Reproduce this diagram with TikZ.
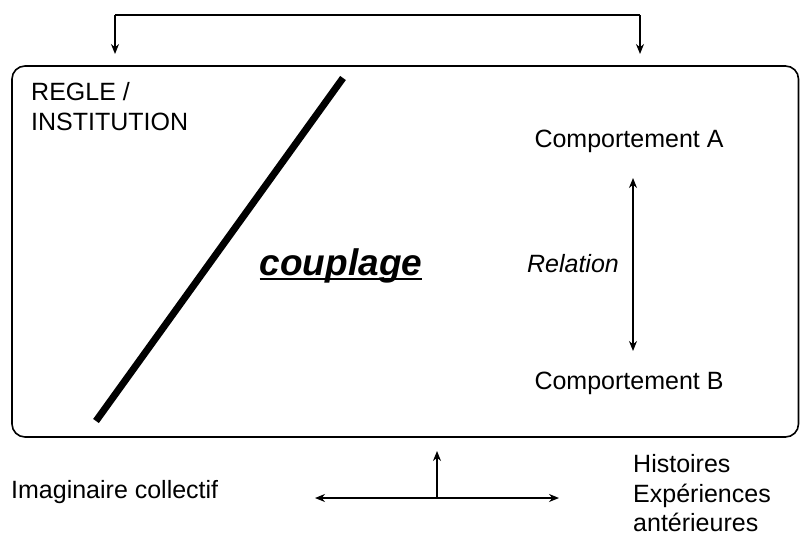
\documentclass[tikz,border=0pt]{standalone}
\usepackage{fontspec}
\setmainfont{Liberation Sans}
\usetikzlibrary{arrows.meta}
\begin{document}
\begin{tikzpicture}[x=1pt,y=-1pt,
  lbl/.style={inner sep=0pt,font=\fontsize{25}{30}\selectfont},
  tip/.tip={Stealth[length=10pt,width=8pt]},
  conn/.style={line width=1.3pt,-tip},
  conn2/.style={line width=1.3pt,tip-tip}]
\useasboundingbox (0,0) rectangle (800,536);
% main box
\draw[line width=1.6pt,rounded corners=13pt] (12,66) rectangle (798.5,437);
% labels
\node[lbl,anchor=west,align=left] (regle) at (31,107) {REGLE /\\INSTITUTION};
\node[lbl,anchor=center] (compA) at (629,141) {Comportement A};
\node[lbl,anchor=center] (compB) at (629,383) {Comportement B};
\node[lbl,anchor=center] (rel) at (573,264) {\itshape Relation};
\node[inner sep=0pt,anchor=base,font=\fontsize{37}{40}\selectfont\bfseries\itshape] (coup) at (341,275) {couplage};
\draw[line width=2pt] ([yshift=-3.5pt]coup.base west) -- ([yshift=-3.5pt]coup.base east);
\node[lbl,anchor=west] (imag) at (11,492) {Imaginaire collectif};
\node[lbl,anchor=west,align=left,font=\fontsize{25}{29.5}\selectfont] (hist) at (633,493.5) {Histoires\\Expériences\\antérieures};
% thick diagonal line
\coordinate (d1) at (343,78);
\coordinate (d2) at (96,421);
\draw[line width=7pt] (d1) -- (d2);
% top connector
\coordinate (tl) at (115,15);
\coordinate (tr) at (640,15);
\coordinate (tlA) at (115,54);
\coordinate (trA) at (640,54);
\draw[conn] (tl) -- (tlA);
\draw[conn] (tr) -- (trA);
\draw[line width=1.3pt] (tl) -- (tr);
% relation arrow
\coordinate (rA) at (633,178);
\coordinate (rB) at (633,351);
\draw[conn2] (rA) -- (rB);
% bottom arrows
\coordinate (bl) at (315,498);
\coordinate (br) at (559,498);
\coordinate (bm) at (437,498);
\coordinate (bu) at (437,451);
\draw[conn2] (bl) -- (br);
\draw[conn] (bm) -- (bu);
\end{tikzpicture}
\end{document}
